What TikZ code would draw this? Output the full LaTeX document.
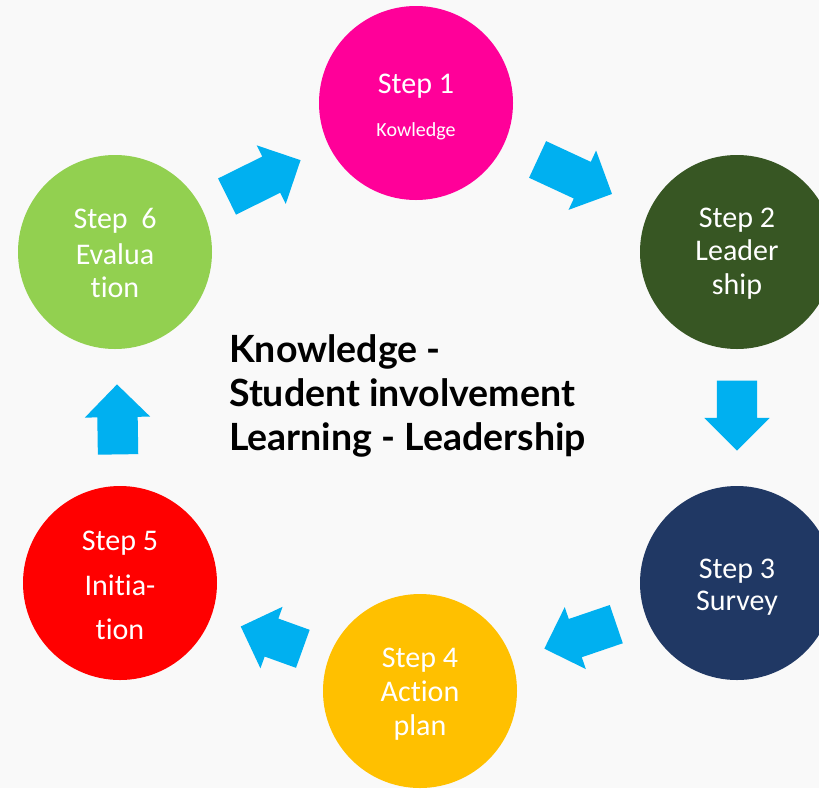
\documentclass[tikz,border=0pt]{standalone}
\usepackage{fontspec}
\setmainfont{Carlito}[Ligatures=NoCommon]
\newfontfamily\headfont{Lato}
\usetikzlibrary{shapes.arrows}
\definecolor{pinkstep}{HTML}{FF0099}
\definecolor{greenstep}{HTML}{375623}
\definecolor{navystep}{HTML}{203864}
\definecolor{goldstep}{HTML}{FFC000}
\definecolor{redstep}{HTML}{FF0000}
\definecolor{limestep}{HTML}{92D050}
\definecolor{arrowblue}{HTML}{00B0F0}
\definecolor{paper}{HTML}{F9F9F9}
\tikzset{
  stepdisc/.style={circle, minimum size=194pt, inner sep=0pt},
  steptext/.style={anchor=base, inner sep=0pt, text=white, align=center,
    font=\fontsize{30}{34}\selectfont},
  blockarrow/.style={single arrow, fill=arrowblue, minimum width=65pt,
    single arrow head extend=12.5pt, inner xsep=0pt, inner ysep=20pt,
    sloped, allow upside down, xshift=-12pt},
}
\begin{document}
\begin{tikzpicture}[x=1pt,y=-1pt]
        \fill[paper] (0,0) rectangle (819,788);
        \useasboundingbox (0,0) rectangle (819,788);
        % the six steps
        \node[stepdisc, fill=pinkstep] (s1) at (416,103) {};
        \node[stepdisc, fill=greenstep] (s2) at (737,252) {};
        \node[stepdisc, fill=navystep] (s3) at (737,583) {};
        \node[stepdisc, fill=goldstep] (s4) at (420,691) {};
        \node[stepdisc, fill=redstep] (s5) at (120,583) {};
        \node[stepdisc, fill=limestep] (s6) at (115,252) {};
        \node[steptext] (t1) at (416,136) {Step 1\\[9pt]{\fontsize{20}{24}\selectfont Kowledge}};
        \node[steptext] (t2) at (737,294) {Step 2\\[-1pt]Leader\\ship};
        \node[steptext] (t3) at (737,610) {Step 3\\[-2pt]Survey};
        \node[steptext] (t4) at (420,735) {Step 4\\Action\\plan};
        \node[steptext] (t5) at (120,639) {Step 5\\[11pt]Initia-\\[10pt]tion};
        \node[steptext] (t6) at (115,297) {Step\ \ 6\\[2pt]Evalua\\[-1pt]tion};
        % arrows between the steps
        \path (s6) -- node[blockarrow, minimum height=82pt] (a61) {} (s1);
        \path (s1) -- node[blockarrow, minimum height=82pt] (a12) {} (s2);
        \path (s2) -- node[blockarrow, minimum height=70pt] (a23) {} (s3);
        \path (s3) -- node[blockarrow, minimum height=76pt] (a34) {} (s4);
        \path (s4) -- node[blockarrow, minimum height=66pt] (a45) {} (s5);
        \path (s5) -- node[blockarrow, minimum height=70pt] (a56) {} (s6);
        \node[anchor=north west, inner sep=0pt, align=left,
          font=\headfont\bfseries\fontsize{37.5}{44}\selectfont] (theme) at (229,334)
          {Knowledge -\\Student involvement\\Learning - Leadership};
\end{tikzpicture}
\end{document}
